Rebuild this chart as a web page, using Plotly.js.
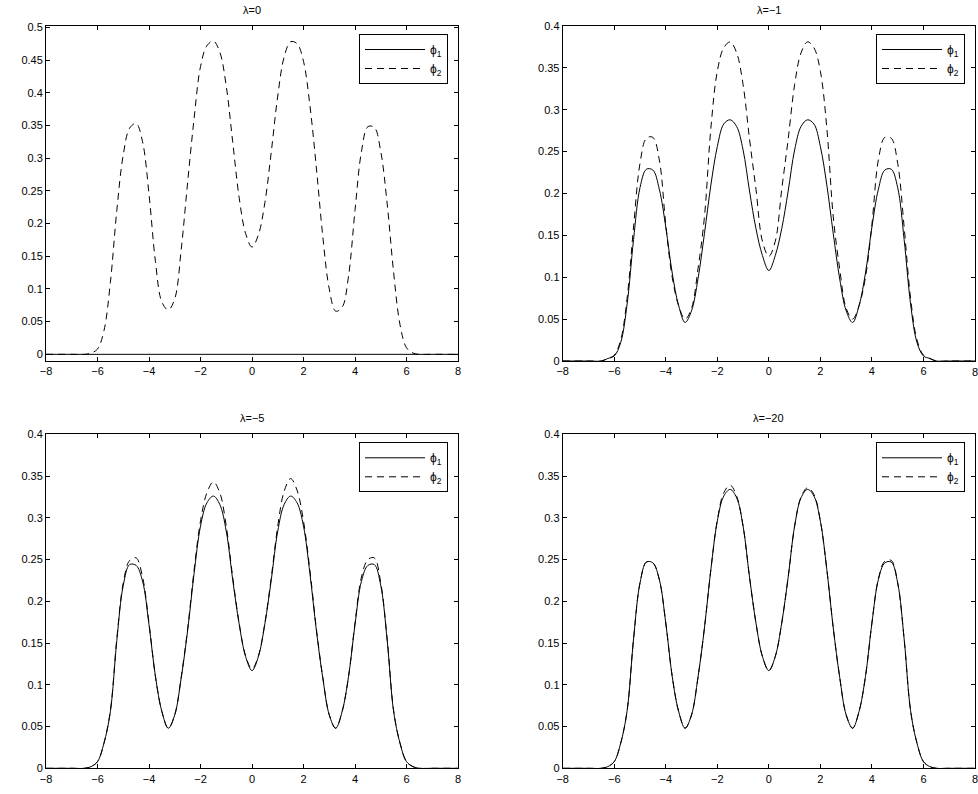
<!DOCTYPE html>
<html>
<head>
<meta charset="utf-8">
<script src="https://cdn.plot.ly/plotly-3.0.1.min.js"></script>
<style>
  html, body { margin: 0; padding: 0; background: #fff; }
  #chart { width: 978px; height: 794px; }
</style>
</head>
<body>
<div id="chart"></div>
<script>
  const xs = [-8, -7, -6.5, -6.25, -6, -5.75, -5.5, -5.25, -5, -4.75, -4.5, -4.25, -4, -3.75, -3.5, -3.25, -3, -2.75, -2.5, -2.25, -2, -1.75, -1.5, -1.25, -1, -0.75, -0.5, -0.25, 0, 0.25, 0.5, 0.75, 1, 1.25, 1.5, 1.75, 2, 2.25, 2.5, 2.75, 3, 3.25, 3.5, 3.75, 4, 4.25, 4.5, 4.75, 5, 5.25, 5.5, 5.75, 6, 6.25, 6.5, 7, 8];

  // lambda = 0
  const phi1_l0x = [-8, 8];
  const phi1_l0 = [0, 0];
  const phi2_l0 = [0, 0, 0, 0.002, 0.008, 0.036, 0.11, 0.22, 0.305, 0.346, 0.353, 0.325, 0.245, 0.142, 0.08, 0.068, 0.085, 0.16, 0.263, 0.36, 0.44, 0.472, 0.479, 0.462, 0.41, 0.325, 0.24, 0.185, 0.164, 0.183, 0.232, 0.31, 0.395, 0.455, 0.478, 0.475, 0.448, 0.38, 0.285, 0.18, 0.1, 0.066, 0.072, 0.12, 0.22, 0.31, 0.348, 0.347, 0.31, 0.23, 0.125, 0.045, 0.01, 0.002, 0, 0, 0];

  // lambda = -1
  const phi1_l1 = [0, 0, 0, 0.003, 0.006, 0.022, 0.068, 0.145, 0.207, 0.229, 0.228, 0.205, 0.16, 0.105, 0.066, 0.046, 0.06, 0.098, 0.152, 0.21, 0.256, 0.283, 0.288, 0.28, 0.252, 0.203, 0.158, 0.126, 0.108, 0.126, 0.158, 0.203, 0.252, 0.28, 0.288, 0.283, 0.256, 0.21, 0.152, 0.098, 0.06, 0.046, 0.066, 0.105, 0.16, 0.205, 0.228, 0.229, 0.207, 0.145, 0.068, 0.022, 0.006, 0.003, 0, 0, 0];
  const phi2_l1 = [0, 0, 0, 0.003, 0.007, 0.025, 0.075, 0.16, 0.236, 0.266, 0.267, 0.24, 0.163, 0.1, 0.066, 0.05, 0.063, 0.11, 0.172, 0.278, 0.346, 0.374, 0.381, 0.368, 0.33, 0.265, 0.205, 0.143, 0.125, 0.143, 0.205, 0.265, 0.33, 0.368, 0.381, 0.374, 0.346, 0.278, 0.172, 0.11, 0.063, 0.05, 0.066, 0.1, 0.163, 0.24, 0.267, 0.266, 0.236, 0.16, 0.075, 0.025, 0.007, 0.003, 0, 0, 0];

  // lambda = -5
  const phi1_l5 = [0, 0, 0, 0.002, 0.008, 0.03, 0.068, 0.153, 0.219, 0.244, 0.243, 0.224, 0.172, 0.11, 0.068, 0.048, 0.064, 0.108, 0.165, 0.233, 0.29, 0.318, 0.326, 0.316, 0.284, 0.226, 0.173, 0.134, 0.117, 0.134, 0.173, 0.226, 0.284, 0.316, 0.326, 0.318, 0.29, 0.233, 0.165, 0.108, 0.064, 0.048, 0.068, 0.11, 0.172, 0.224, 0.243, 0.244, 0.219, 0.153, 0.068, 0.03, 0.008, 0.002, 0, 0, 0];
  const phi2_l5 = [0, 0, 0, 0.002, 0.008, 0.03, 0.069, 0.155, 0.222, 0.249, 0.252, 0.229, 0.174, 0.11, 0.068, 0.048, 0.064, 0.109, 0.167, 0.237, 0.296, 0.33, 0.343, 0.33, 0.29, 0.229, 0.174, 0.135, 0.119, 0.135, 0.174, 0.229, 0.29, 0.332, 0.347, 0.333, 0.296, 0.237, 0.167, 0.109, 0.064, 0.048, 0.068, 0.11, 0.174, 0.229, 0.25, 0.252, 0.222, 0.155, 0.069, 0.03, 0.008, 0.002, 0, 0, 0];

  // lambda = -20
  const phi1_l20 = [0, 0, 0, 0.002, 0.008, 0.03, 0.069, 0.155, 0.222, 0.247, 0.246, 0.226, 0.174, 0.11, 0.068, 0.048, 0.064, 0.109, 0.168, 0.238, 0.296, 0.326, 0.334, 0.324, 0.29, 0.229, 0.174, 0.134, 0.117, 0.134, 0.174, 0.229, 0.29, 0.324, 0.334, 0.326, 0.296, 0.238, 0.168, 0.109, 0.064, 0.048, 0.068, 0.11, 0.174, 0.226, 0.246, 0.247, 0.222, 0.155, 0.069, 0.03, 0.008, 0.002, 0, 0, 0];
  const phi2_l20 = [0, 0, 0, 0.002, 0.008, 0.03, 0.069, 0.155, 0.222, 0.247, 0.246, 0.226, 0.174, 0.11, 0.068, 0.048, 0.064, 0.109, 0.168, 0.238, 0.297, 0.33, 0.339, 0.326, 0.29, 0.229, 0.174, 0.134, 0.117, 0.134, 0.174, 0.229, 0.29, 0.325, 0.336, 0.328, 0.296, 0.238, 0.168, 0.109, 0.064, 0.048, 0.068, 0.11, 0.174, 0.227, 0.248, 0.249, 0.222, 0.155, 0.069, 0.03, 0.008, 0.002, 0, 0, 0];

  const titles = ["λ=0", "λ=−1", "λ=−5", "λ=−20"];
  const names = ["ϕ<sub>1</sub>", "ϕ<sub>2</sub>"];

  const font = { family: "Liberation Sans, Arial, sans-serif", size: 11, color: "#000" };
  const W = 978, H = 794;

  // pixel boxes of the four axes: [left, right, top, bottom]
  const boxes = [
    [46, 458, 26, 361],
    [562.7, 975, 26, 361],
    [46, 458, 434.3, 768.3],
    [562.7, 975, 434.3, 768.3],
  ];
  const yRanges = [[-0.0102, 0.502], [0, 0.4], [0, 0.4], [0, 0.4]];

  const panels = [
    [[phi1_l0x, phi1_l0], [xs, phi2_l0]],
    [[xs, phi1_l1], [xs, phi2_l1]],
    [[xs, phi1_l5], [xs, phi2_l5]],
    [[xs, phi1_l20], [xs, phi2_l20]],
  ];

  const traces = [];
  const layout = {
    width: W,
    height: H,
    margin: { l: 0, r: 0, t: 0, b: 0 },
    paper_bgcolor: "#fff",
    plot_bgcolor: "#fff",
    font: font,
    annotations: [],
  };

  panels.forEach((p, i) => {
    const n = i + 1;
    const sfx = n === 1 ? "" : String(n);
    const legKey = n === 1 ? "legend" : "legend" + n;
    p.forEach((s, j) => {
      traces.push({
        x: s[0],
        y: s[1],
        type: "scatter",
        mode: "lines",
        name: names[j],
        xaxis: "x" + sfx,
        yaxis: "y" + sfx,
        legend: legKey,
        line: {
          color: "#000",
          width: 1,
          dash: j === 0 ? "solid" : "7px,5px",
          shape: "spline",
          smoothing: 1,
        },
        hoverinfo: "skip",
      });
    });

    const b = boxes[i];
    const axisCommon = {
      showline: true,
      linecolor: "#000",
      linewidth: 1,
      mirror: "ticks",
      ticks: "inside",
      ticklen: 4,
      tickcolor: "#000",
      showgrid: false,
      zeroline: false,
      tickfont: font,
    };
    layout["xaxis" + sfx] = Object.assign({}, axisCommon, {
      domain: [b[0] / W, b[1] / W],
      anchor: "y" + sfx,
      range: [-8, 8],
      tick0: -8,
      dtick: 2,
    });
    layout["yaxis" + sfx] = Object.assign({}, axisCommon, {
      domain: [1 - b[3] / H, 1 - b[2] / H],
      anchor: "x" + sfx,
      range: yRanges[i],
      tick0: 0,
      dtick: 0.05,
    });
    layout[legKey] = {
      x: (b[1] - 10) / W,
      y: 1 - (b[2] + 8) / H,
      xanchor: "right",
      yanchor: "top",
      bgcolor: "#fff",
      bordercolor: "#000",
      borderwidth: 1,
      font: { family: font.family, size: 12, color: "#000" },
      itemwidth: 60,
      tracegroupgap: 0,
    };
    layout.annotations.push({
      text: titles[i],
      xref: "paper",
      yref: "paper",
      x: (b[0] + b[1]) / 2 / W,
      y: 1 - (b[2] - 16) / H,
      xanchor: "center",
      yanchor: "middle",
      showarrow: false,
      font: font,
    });
    // the "8" label at the right end of the right-hand panels is cut by the page edge
    if (i % 2 === 1) {
      layout.annotations.push({
        text: "8",
        xref: "x" + sfx,
        yref: "paper",
        x: 8,
        y: 1 - (b[3] + 3) / H,
        xanchor: "center",
        yanchor: "top",
        showarrow: false,
        font: font,
      });
    }
  });

  Plotly.newPlot("chart", traces, layout, { displayModeBar: false, staticPlot: true });
</script>
</body>
</html>
